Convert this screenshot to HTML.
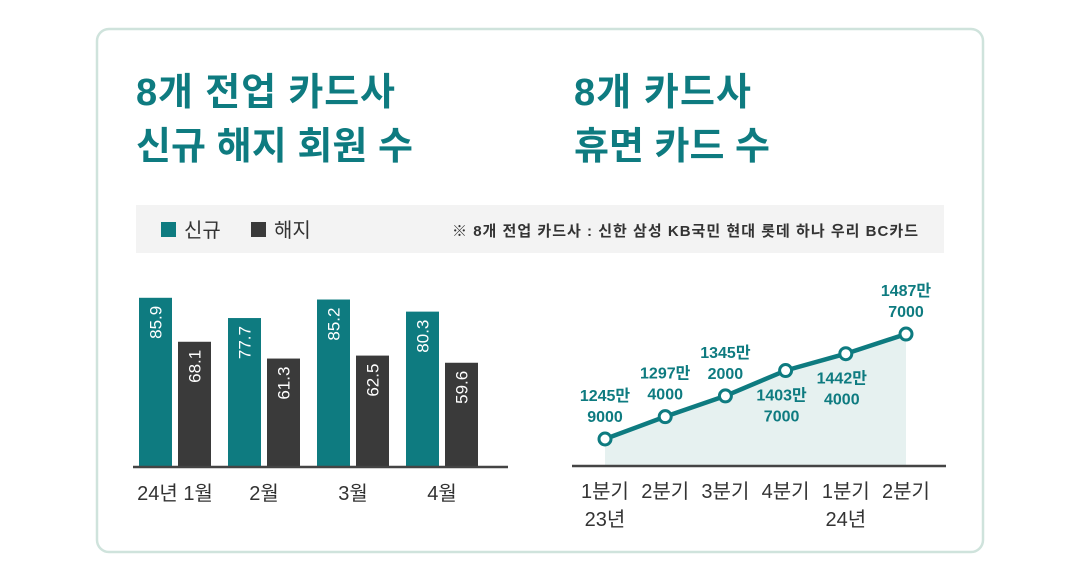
<!DOCTYPE html>
<html><head><meta charset="utf-8"><style>
html,body{margin:0;padding:0;background:#fff;}
body{width:1080px;height:572px;overflow:hidden;font-family:"Liberation Sans","Noto Sans CJK KR",sans-serif;}
</style></head><body>
<svg id="chart" width="1080" height="572" xmlns="http://www.w3.org/2000/svg" font-family="Liberation Sans, Noto Sans CJK KR, sans-serif">
<rect x="97" y="29" width="886" height="523" rx="12" fill="#fff" stroke="#cfe3dc" stroke-width="2.5"/>
<g fill="#0e7b80" font-weight="bold" font-size="38">
<text x="136" y="105" textLength="259">8개 전업 카드사</text>
<text x="136" y="159" textLength="277">신규 해지 회원 수</text>
</g>
<g fill="#0e7b80" font-weight="bold" font-size="38">
<text x="574" y="105" textLength="177">8개 카드사</text>
<text x="574" y="159" textLength="196">휴면 카드 수</text>
</g>
<rect x="136" y="205" width="808" height="48" fill="#f3f3f3"/>
<g>
<rect x="161" y="222" width="15" height="15" fill="#0e7b80"/>
<text x="184" y="237" font-size="20" fill="#333">신규</text>
</g>
<g>
<rect x="251" y="222" width="15" height="15" fill="#3a3a3a"/>
<text x="274" y="237" font-size="20" fill="#333">해지</text>
</g>
<text x="452" y="236" textLength="466" font-size="15" font-weight="bold" fill="#333">※ 8개 전업 카드사 : 신한 삼성 KB국민 현대 롯데 하나 우리 BC카드</text>
<g id="bars"></g>
<g id="line"></g>
</svg>
<script>
const months = ['24년 1월','2월','3월','4월'];
const newVals = [85.9, 77.7, 85.2, 80.3];
const cancelVals = [68.1, 61.3, 62.5, 59.6];
const quarters = ['1분기','2분기','3분기','4분기','1분기','2분기'];
const years = ['23년','','','','24년',''];
const dormant = [1245.9, 1297.4, 1345.2, 1403.7, 1442.4, 1487.7];
const dormantTop = ['1245만','1297만','1345만','1403만','1442만','1487만'];
const dormantBottom = ['9000','4000','2000','7000','4000','7000'];
const labelBelow = [false,false,false,true,true,false];

const NS='http://www.w3.org/2000/svg';
function mk(tag,attrs,parent,text){const e=document.createElementNS(NS,tag);for(const k in attrs)e.setAttribute(k,attrs[k]);if(text!==undefined)e.textContent=text;parent.appendChild(e);return e;}

const base=466;
const yBar=v=>base-(v-17.8)*2.47;
const xGroup=i=>139+i*89;
const bars=document.getElementById('bars');
months.forEach((m,i)=>{
  const x=xGroup(i);
  const r1=mk('rect',{x:x,y:yBar(newVals[i]),width:33,height:base-yBar(newVals[i]),fill:'#0e7b80'},bars);
  
  
  const r2=mk('rect',{x:x+39,y:yBar(cancelVals[i]),width:33,height:base-yBar(cancelVals[i]),fill:'#3a3a3a'},bars);
  
  
  const cx1=x+16.5, ty1=yBar(newVals[i])+8;
  const t1=mk('text',{x:0,y:0,transform:`translate(${cx1+6},${ty1}) rotate(-90)`,'text-anchor':'end','font-size':'17',fill:'#fff'},bars,newVals[i].toFixed(1));
  
  
  const cx2=x+39+16.5, ty2=yBar(cancelVals[i])+8;
  const t2=mk('text',{x:0,y:0,transform:`translate(${cx2+6},${ty2}) rotate(-90)`,'text-anchor':'end','font-size':'17',fill:'#fff'},bars,cancelVals[i].toFixed(1));
  
  
  const xl=mk('text',{x:x+36,y:500,'text-anchor':'middle','font-size':'20',fill:'#333'},bars,m);
  
  
});
const ax1=mk('line',{x1:133,y1:467,x2:508,y2:467,stroke:'#444','stroke-width':'2.5'},bars);



const xQ=i=>605+i*60.2;
const yL=v=>439-(v-1245.9)*0.434;
const lg=document.getElementById('line');
let pts=dormant.map((v,i)=>xQ(i)+','+yL(v)).join(' ');
const area=mk('polygon',{points:`${xQ(0)},466 ${pts} ${xQ(dormant.length-1)},466`,fill:'#e6f1f0'},lg);


const pl=mk('polyline',{points:pts,fill:'none',stroke:'#0e7b80','stroke-width':'4.5','stroke-linejoin':'round'},lg);


const ax2=mk('line',{x1:572,y1:466,x2:946,y2:466,stroke:'#444','stroke-width':'2.5'},lg);


dormant.forEach((v,i)=>{
  const x=xQ(i),y=yL(v);
  const c=mk('circle',{cx:x,cy:y,r:6,fill:'#fff',stroke:'#0e7b80','stroke-width':'3'},lg);
  
  
  let lx=x,ly1,ly2;
  if(labelBelow[i]){lx=x-4;ly1=y+30;ly2=y+51;}else{ly1=y-38;ly2=y-17;}
  const t=mk('text',{x:lx,y:ly1,'text-anchor':'middle','font-size':'16','font-weight':'bold',fill:'#0e7b80'},lg,dormantTop[i]);
  
  
  const t2=mk('text',{x:lx,y:ly2,'text-anchor':'middle','font-size':'16','font-weight':'bold',fill:'#0e7b80'},lg,dormantBottom[i]);
  
  
  const q=mk('text',{x:x,y:498,'text-anchor':'middle','font-size':'20',fill:'#333'},lg,quarters[i]);
  
  
  if(years[i]){
    const yy=mk('text',{x:x,y:526,'text-anchor':'middle','font-size':'20',fill:'#333'},lg,years[i]);
    
    
  }
});
</script>
</body></html>
